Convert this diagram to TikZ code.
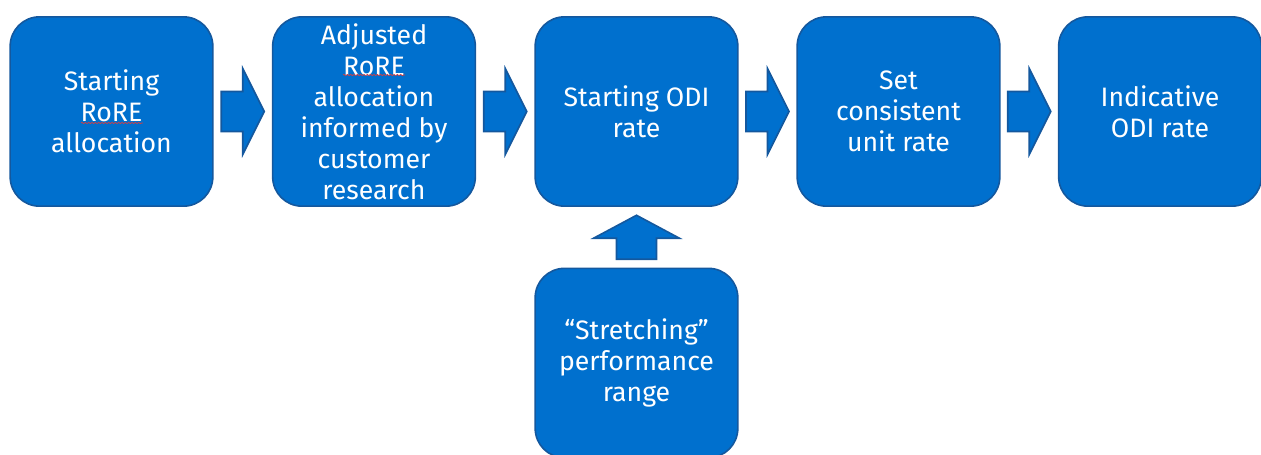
\documentclass[tikz,border=0pt]{standalone}
\usepackage{fontspec}
\setmainfont{Fira Sans}
\usetikzlibrary{calc,decorations.pathmorphing}
\definecolor{boxfill}{RGB}{0,112,206}
\definecolor{boxline}{RGB}{20,88,158}
\definecolor{squig}{RGB}{220,60,60}
\begin{document}
\begin{tikzpicture}[x=0.75pt,y=-0.75pt,
  stepbox/.style={draw=boxline, line width=1.2pt, fill=boxfill, rounded corners=22pt,
    minimum width=152pt, minimum height=142pt, inner sep=0pt, text=white,
    align=center, font=\fontsize{20}{23.3}\selectfont},
  blockarr/.style={draw=boxline, line width=1.2pt, fill=boxfill, line join=miter},
  squiggle/.style={draw=squig, line width=0.5pt, decorate,
    decoration={snake, amplitude=0.5pt, segment length=2.5pt}}]
\useasboundingbox (0,0) rectangle (1261,454);
\node[stepbox] (b1) at (111.5,111.5) {Starting\\RoRE\\allocation};
\node[stepbox] (b2) at (374,111.5) {Adjusted\\RoRE\\allocation\\informed by\\customer\\research};
\node[stepbox] (b3) at (636.5,111.5) {Starting ODI\\rate};
\node[stepbox] (b4) at (898.5,111.5) {Set\\consistent\\unit rate};
\node[stepbox] (b5) at (1160,111.5) {Indicative\\ODI rate};
\node[stepbox] (b6) at (636.5,363) {``Stretching''\\performance\\range};
\coordinate (c1) at ($(b1.east)!0.5!(b2.west)$);
\coordinate (c2) at ($(b2.east)!0.5!(b3.west)$);
\coordinate (c3) at ($(b3.east)!0.5!(b4.west)$);
\coordinate (c4) at ($(b4.east)!0.5!(b5.west)$);
\coordinate (c5) at ($(b6.north)!0.5!(b3.south)$);
\foreach \c in {c1,c2,c3,c4}{
  \draw[blockarr, shift={(\c)}] (-21.5,-20) -- (0,-20) -- (0,-43) -- (21.5,0)
    -- (0,43) -- (0,20) -- (-21.5,20) -- cycle;
}
\draw[blockarr, shift={(c5)}] (-20,22) -- (-20,1) -- (-43,1) -- (0,-22)
  -- (43,1) -- (20,1) -- (20,22) -- cycle;
\draw[squiggle] (81,123) -- (143,123);
\draw[squiggle] (343,75) -- (405,75);
\end{tikzpicture}
\end{document}
